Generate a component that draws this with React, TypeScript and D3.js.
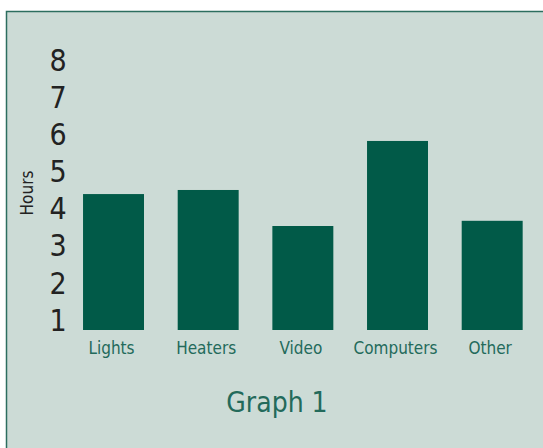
import React from 'react';
import * as d3 from 'd3';

// usage hours per category
const categories = ['Lights', 'Heaters', 'Video', 'Computers', 'Other'];
const hours = [4.39, 4.5, 3.53, 5.82, 3.67];
const yTicks = [1, 2, 3, 4, 5, 6, 7, 8];

const W = 543;
const H = 448;
const baseY = 330;

const App = () => {
    const xScale = d3
        .scaleBand()
        .domain(categories)
        .range([64.1, 541.6])
        .paddingInner(0.356)
        .paddingOuter(0.2);
    const yScale = d3.scaleLinear().domain([0, 8]).range([357.1, 60]);
    const font = '"DejaVu Sans Condensed", "Liberation Sans Narrow", sans-serif';

    return (
        <svg width={W} height={H} style={{ position: 'absolute', left: 0, top: 0 }}>
            <rect x={0} y={0} width={W} height={H} fill="#fff" />
            <rect x={6.5} y={11.5} width={W + 10} height={H + 10} fill="#ccdbd6" stroke="#2c6e5f" strokeWidth={1.5} />
            {yTicks.map(t => (
                <text key={t} x={58} y={yScale(t)} dy="0.36em" textAnchor="middle"
                    style={{ font: `300 30px ${font}` }} fill="#222">{t}</text>
            ))}
            <text transform={`translate(33,193) rotate(-90)`} textAnchor="middle"
                style={{ font: `17px ${font}` }} fill="#222">Hours</text>
            {categories.map((c, i) => (
                <g key={c}>
                    <rect x={xScale(c)} y={yScale(hours[i])} width={xScale.bandwidth()}
                        height={baseY - yScale(hours[i])} fill="#015a48" />
                    <text x={xScale(c)! + xScale.bandwidth() / 2 - 2} y={354} textAnchor="middle"
                        style={{ font: `17px ${font}` }} fill="#236a5b">{c}</text>
                </g>
            ))}
            <text x={277} y={412} textAnchor="middle" style={{ font: `28px ${font}` }} fill="#236a5b">Graph 1</text>
        </svg>
    );
};

export default App;
